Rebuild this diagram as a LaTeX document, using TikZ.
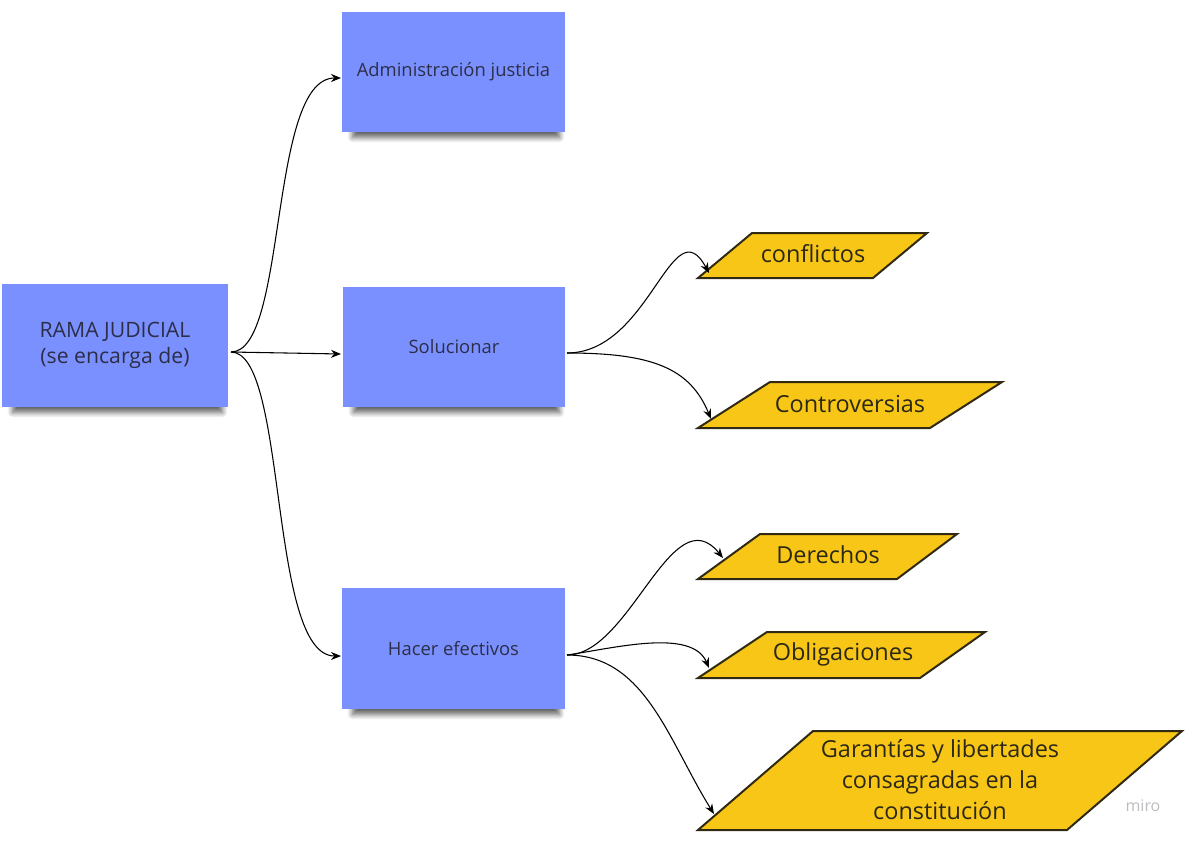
\documentclass[tikz,border=0pt]{standalone}
\usepackage{fontspec}
\setmainfont{Open Sans}
\usetikzlibrary{arrows.meta,shadows.blur}
\definecolor{stickyfill}{RGB}{123,144,255}
\definecolor{stickytext}{RGB}{44,46,72}
\definecolor{parafill}{RGB}{248,198,22}
\definecolor{paraline}{RGB}{48,42,20}
\definecolor{paratext}{RGB}{44,40,22}
\definecolor{mirogray}{RGB}{188,188,194}
\begin{document}
\begin{tikzpicture}[x=0.75pt,y=-0.75pt,
  stickynode/.style={fill=stickyfill, draw=none, text=stickytext, align=center, inner sep=0pt,
    blur shadow={shadow xshift=2pt, shadow yshift=-8pt, shadow scale=0.93, shadow opacity=60, shadow blur steps=8, shadow blur radius=4pt}},
  paraoutline/.style={fill=parafill, draw=paraline, line width=1.5pt, line join=miter},
  paralabel/.style={text=paratext, align=center, inner sep=0pt, font=\fontsize{17.6}{23.3}\selectfont},
  conn/.style={draw=black, line width=0.8pt, -{Stealth[length=7.5pt,width=6pt]}}
]
\useasboundingbox (0,0) rectangle (1190,840);

% sticky notes
\node[stickynode, minimum width=226*0.75pt, minimum height=123*0.75pt,
      font=\fontsize{15.9}{20}\selectfont] (rama) at (115,345.5) {RAMA JUDICIAL\\(se encarga de)};
\node[stickynode, minimum width=223*0.75pt, minimum height=120*0.75pt,
      font=\fontsize{13.8}{16}\selectfont] (admin) at (453.5,72) {Administración justicia};
\node[stickynode, minimum width=222*0.75pt, minimum height=120*0.75pt,
      font=\fontsize{13.8}{16}\selectfont] (soluc) at (454,347) {Solucionar};
\node[stickynode, minimum width=223*0.75pt, minimum height=121*0.75pt,
      font=\fontsize{13.8}{16}\selectfont] (hacer) at (453.5,648.5) {Hacer efectivos};

% parallelograms
\draw[paraoutline] (698,278) -- (752,233) -- (927,233) -- (873,278) -- cycle;
\node[paralabel] (conf) at (813,254) {conflictos};
\draw[paraoutline] (698,428) -- (770,382) -- (1002,382) -- (930,428) -- cycle;
\node[paralabel] (contr) at (850,404) {Controversias};
\draw[paraoutline] (698,579) -- (760,534) -- (957,534) -- (897,579) -- cycle;
\node[paralabel] (der) at (828,555) {Derechos};
\draw[paraoutline] (698,678) -- (767,632) -- (985,632) -- (920,678) -- cycle;
\node[paralabel] (oblig) at (843,654) {Obligaciones};
\draw[paraoutline] (698,830) -- (813,731) -- (1182,731) -- (1067,830) -- cycle;
\node[paralabel] (garant) at (940,780) {Garantías y libertades\\consagradas en la\\constitución};

% connector end points
\coordinate (rama-out) at (231,352);
\coordinate (admin-in) at (341,78);
\coordinate (soluc-in) at (341,354);
\coordinate (hacer-in) at (341,656);
\coordinate (soluc-out) at (567,353);
\coordinate (hacer-out) at (567,655);
\coordinate (conf-in) at (709,273);
\coordinate (contr-in) at (711,419);
\coordinate (der-in) at (723,558);
\coordinate (oblig-in) at (709,668);
\coordinate (garant-in) at (714,814);

% connectors
\draw[conn] (rama-out) .. controls (288,352) and (268,78) .. (admin-in);
\draw[conn] (rama-out) -- (soluc-in);
\draw[conn] (rama-out) .. controls (288,352) and (268,656) .. (hacer-in);

\draw[conn] (soluc-out) .. controls (650,353) and (672,205) .. (conf-in);
\draw[conn] (soluc-out) .. controls (652,353) and (690,368) .. (contr-in);

\draw[conn] (hacer-out) .. controls (630,655) and (672,495) .. (der-in);
\draw[conn] (hacer-out) .. controls (615,648) and (692,628) .. (oblig-in);
\draw[conn] (hacer-out) .. controls (645,655) and (668,740) .. (garant-in);

% watermark
\node[text=mirogray, font=\fontsize{12}{14}\selectfont] (miro) at (1143,806) {miro};
\end{tikzpicture}
\end{document}
